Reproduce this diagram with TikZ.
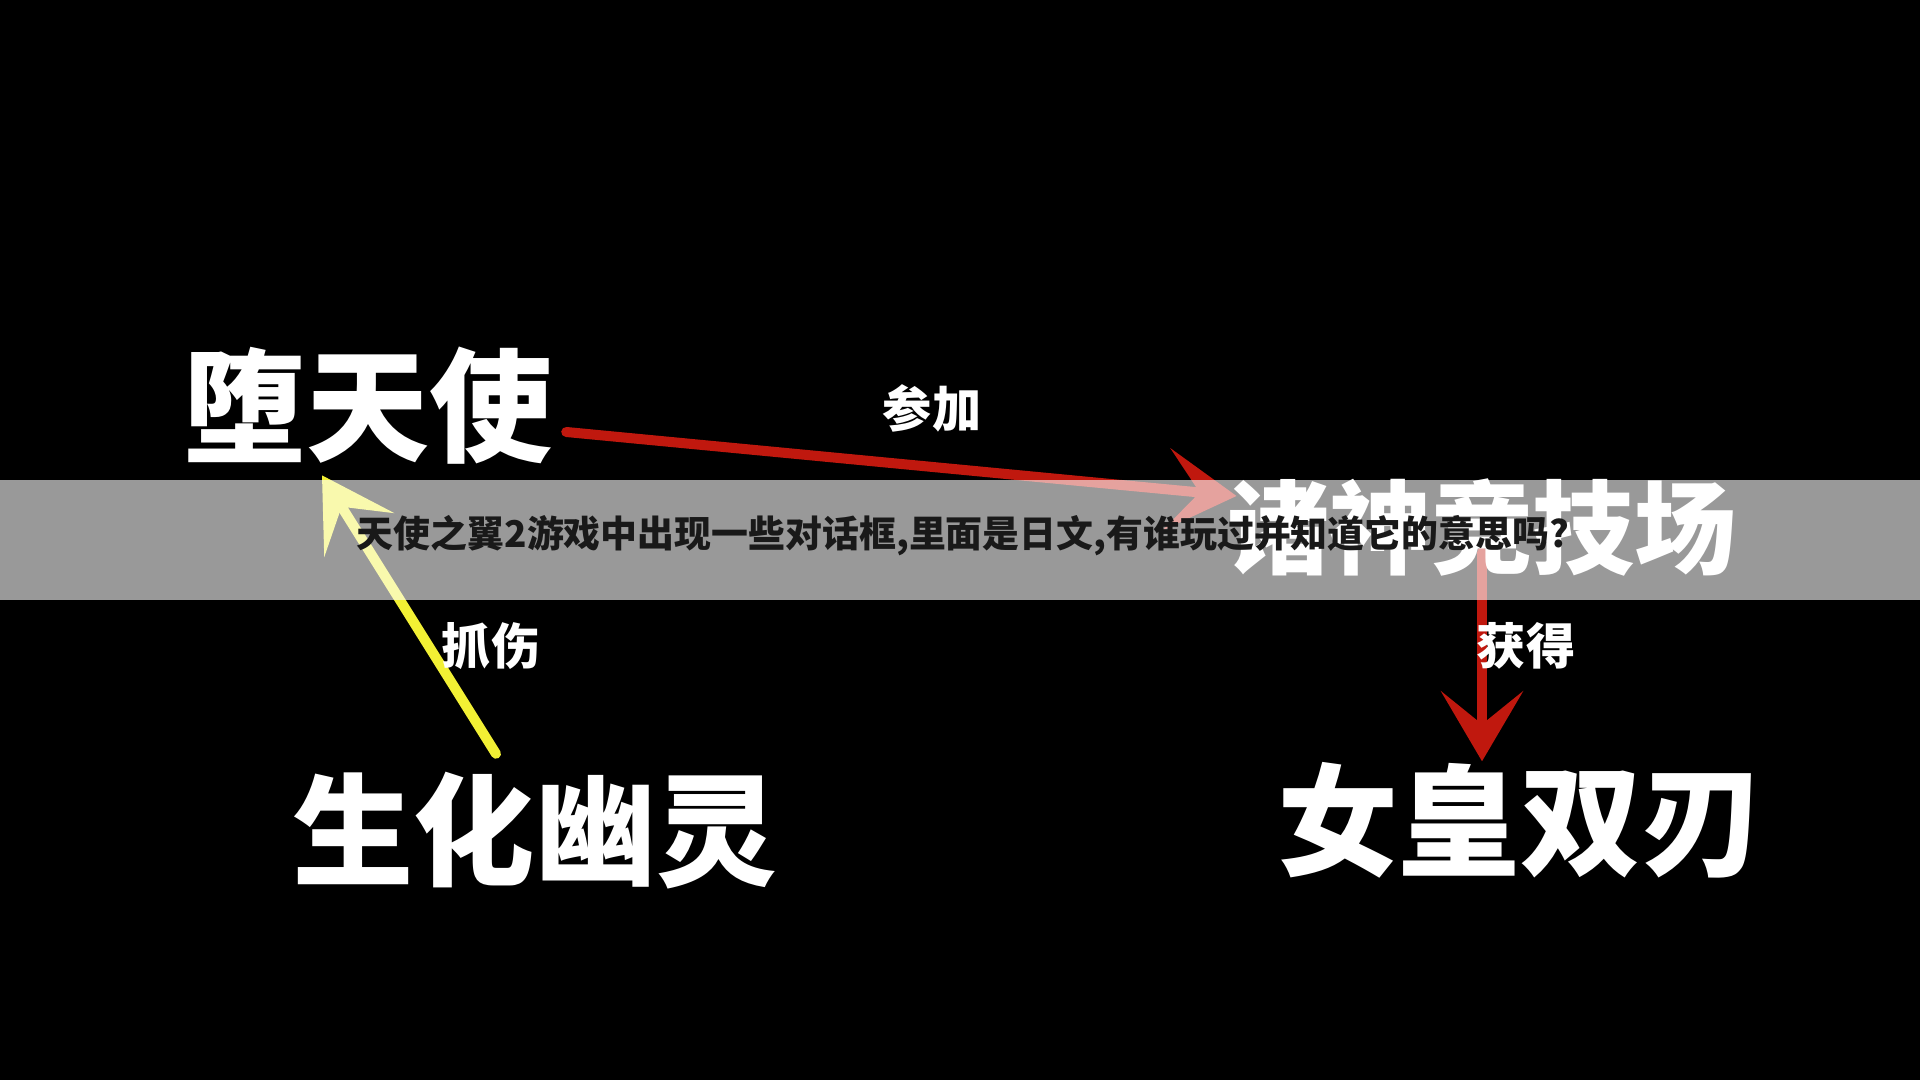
\documentclass[tikz,border=0pt]{standalone}
\usepackage{fontspec}
\newfontfamily\cjk{Noto Sans CJK SC}
\newfontfamily\cjkblack{Noto Sans CJK SC Black}
\usetikzlibrary{arrows.meta,backgrounds}
\definecolor{dvred}{RGB}{192,24,14}
\definecolor{dvyellow}{RGB}{242,240,52}

\begin{document}
\begin{tikzpicture}[
	bigname/.style={text=white,inner sep=0pt,font=\cjk\bfseries\fontsize{35pt}{40pt}\selectfont},
	edgelabel/.style={text=white,inner sep=0pt,font=\cjk\bfseries\fontsize{14pt}{16pt}\selectfont},
	conn/.style={line width=2.85pt,line cap=round,-{Stealth[length=7mm,width=8.2mm,inset=3.3mm]}}]
		\useasboundingbox (0,0) rectangle (19.2,10.8);
		\node[bigname] (duo) at (3.68,6.74) {堕天使};
		\node[bigname,font=\cjk\bfseries\fontsize{29pt}{33pt}\selectfont] (arena) at (14.82,5.52) {诸神竞技场};
		\node[bigname,font=\cjk\bfseries\fontsize{34.5pt}{40pt}\selectfont] (queen) at (15.2,2.60) {女皇双刃};
		\node[bigname,font=\cjk\bfseries\fontsize{34.5pt}{40pt}\selectfont] (ghost) at (5.35,2.49) {生化幽灵};
		\foreach \n/\p/\t in {join/{9.32,6.72}/参加,gain/{15.26,4.34}/获得,claw/{4.91,4.34}/抓伤} \node[edgelabel] (\n) at (\p) {\t};
		\begin{scope}[on background layer]
			\fill[black] (0,0) rectangle (19.2,10.8);
			\draw[conn,dvred] ([xshift=1.3mm,yshift=-2.6mm]duo.east) -- ([xshift=1mm,yshift=3.2mm]arena.west);
			\draw[conn,dvred] ([yshift=2.5mm]arena.south) -- (arena.south |- queen.north);
			\draw[conn,dvyellow] ([xshift=-3.9mm,yshift=1.8mm]ghost.north) -- ([xshift=-4.6mm,yshift=-1mm]duo.south);
		\end{scope}
		\fill[white,fill opacity=0.6] (0,4.8) rectangle (19.2,6.0);
		\node[text=black!90,inner sep=0pt,font=\cjkblack\fontsize{10.5pt}{12pt}\selectfont] (ttl) at (9.63,5.44) {天使之翼2游戏中出现一些对话框,里面是日文,有谁玩过并知道它的意思吗?};
	\end{tikzpicture}
\end{document}
